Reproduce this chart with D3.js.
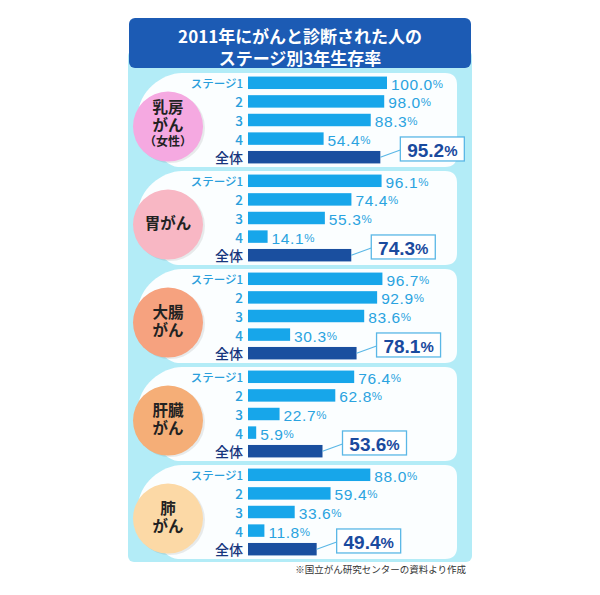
<!DOCTYPE html>
<html>
<head>
<meta charset="utf-8">
<script src="https://cdn.jsdelivr.net/npm/d3@7"></script>
<style>
  body { margin: 0; background: #fff; }
  svg { display: block; }
</style>
</head>
<body>
<svg id="chart" width="600" height="595"></svg>
<script>
// Data
const cancers = ['乳房がん（女性）', '胃がん', '大腸がん', '肝臓がん', '肺がん'];
const circleLines = [['乳房', 'がん', '（女性）'], ['胃がん'], ['大腸', 'がん'], ['肝臓', 'がん'], ['肺', 'がん']];
const circleColors = ['#f5a9e1', '#f8b7c4', '#f6a27f', '#f5ae77', '#fcd9a6'];
const stages = ['ステージ1', '2', '3', '4', '全体'];
const breast = [100.0, 98.0, 88.3, 54.4, 95.2];
const stomach = [96.1, 74.4, 55.3, 14.1, 74.3];
const colorectal = [96.7, 92.9, 83.6, 30.3, 78.1];
const liver = [76.4, 62.8, 22.7, 5.9, 53.6];
const lung = [88.0, 59.4, 33.6, 11.8, 49.4];
const values = [breast, stomach, colorectal, liver, lung];
const titleLines = ['2011年にがんと診断された人の', 'ステージ別3年生存率'];
const note = '※国立がん研究センターの資料より作成';

const svg = d3.select('#chart');
const jp = '"Noto Sans CJK JP", sans-serif';
const num = '"Liberation Sans", Arial, "Noto Sans CJK JP", sans-serif';

// scales
const x = d3.scaleLinear().domain([0, 100]).range([248, 387]);
const panelY = d3.scaleBand().domain(cancers).range([73, 563]);
const rowY = d3.scaleBand().domain(stages).range([0.5, 93.5])
    .paddingInner(0.33).paddingOuter(0.165);

// background
svg.append('rect')
    .attr('x', 128).attr('y', 50).attr('width', 344).attr('height', 512)
    .attr('rx', 6).attr('fill', '#b3ecf7');

// title box
svg.append('rect')
    .attr('x', 129).attr('y', 18).attr('width', 342).attr('height', 50)
    .attr('rx', 6).attr('fill', '#1c5bb4');
svg.append('text')
    .attr('x', 300)
    .attr('y', 35)
    .attr('text-anchor', 'middle')
    .attr('dominant-baseline', 'central')
    .attr('font-family', jp)
    .attr('font-weight', 'bold')
    .attr('font-size', 17)
    .attr('fill', '#fff')
    .selectAll('tspan')
    .data(titleLines)
    .enter()
    .append('tspan')
    .attr('x', 300)
    .attr('dy', (d, i) => i === 0 ? 0 : 22)
    .text((d) => d);

// panels
cancers.forEach(function (name, idx) {
    const top = panelY(name);
    const h = panelY.bandwidth() - 4;
    const g = svg.append('g').attr('transform', 'translate(0,' + top + ')');

    // white panel with a bulging left side
    const r = 12, left = 170, right = 457;
    g.append('path')
        .attr('d', 'M' + (left + r) + ',0 H' + (right - r) +
            ' Q' + right + ',0 ' + right + ',' + r +
            ' V' + (h - r) +
            ' Q' + right + ',' + h + ' ' + (right - r) + ',' + h +
            ' H' + (left + 8) +
            ' C' + (left - 10) + ',' + h + ' ' + (left - 32) + ',' + (h * 0.55) + ' ' + (left - 32) + ',' + (h * 0.45) +
            ' C' + (left - 32) + ',' + (h * 0.2) + ' ' + (left - 8) + ',0 ' + (left + r) + ',0 Z')
        .attr('fill', '#fbfeff');

    // circle with cancer name
    const cy = rowY(stages[0]) + 50;
    g.append('circle')
        .attr('cx', 170).attr('cy', cy + 1.5).attr('r', 35)
        .attr('fill', '#000').attr('opacity', 0.08);
    g.append('circle')
        .attr('cx', 168).attr('cy', cy).attr('r', 35)
        .attr('fill', circleColors[idx]);
    const lines = circleLines[idx];
    const starts = { 3: -21, 2: -12, 1: -3 };
    const gaps = [0, 18, 16.5];
    g.selectAll('.cname')
        .data(lines)
        .enter()
        .append('text')
        .attr('class', 'cname')
        .attr('x', 168)
        .attr('y', (d, i) => cy + starts[lines.length] + d3.sum(gaps.slice(0, i + 1)))
        .attr('text-anchor', 'middle')
        .attr('dominant-baseline', 'central')
        .attr('font-family', jp)
        .attr('font-weight', 'bold')
        .attr('font-size', (d, i) => i === 2 ? 12 : 15.5)
        .attr('fill', '#222')
        .text((d) => d);

    const data = values[idx];

    // stage labels
    g.selectAll('.stage')
        .data(stages)
        .enter()
        .append('text')
        .attr('class', 'stage')
        .attr('x', 243)
        .attr('y', (d) => rowY(d) + rowY.bandwidth() / 2)
        .attr('text-anchor', 'end')
        .attr('dominant-baseline', 'central')
        .attr('font-family', jp)
        .attr('font-weight', 500)
        .attr('font-size', (d, i) => i === 0 ? 11.5 : (i === 4 ? 14 : 13.5))
        .attr('fill', (d, i) => i === 4 ? '#17367e' : '#2a9fdc')
        .text((d) => d);

    // bars
    g.selectAll('.bar')
        .data(data)
        .enter()
        .append('rect')
        .attr('class', 'bar')
        .attr('x', x(0))
        .attr('y', (d, i) => rowY(stages[i]))
        .attr('width', (d) => x(d) - x(0))
        .attr('height', rowY.bandwidth())
        .attr('fill', (d, i) => i === 4 ? '#1a4f9f' : '#17a6ea');

    // value labels for stages
    const vals = g.selectAll('.val')
        .data(data.slice(0, 4))
        .enter()
        .append('text')
        .attr('class', 'val')
        .attr('x', (d) => x(d) + 4)
        .attr('y', (d, i) => rowY(stages[i]) + rowY.bandwidth() / 2 + 1)
        .attr('dominant-baseline', 'central')
        .attr('font-family', num)
        .attr('font-size', 15.5)
        .attr('letter-spacing', 0.6)
        .attr('fill', '#2aa3e0');
    vals.append('tspan').text((d) => d.toFixed(1));
    vals.append('tspan').attr('font-size', 11.5).text('%');

    // callout for overall value
    const total = data[4];
    const by = rowY(stages[4]);
    const bx = x(total) + 20;
    const boxTop = by - 14;
    g.append('path')
        .attr('d', 'M' + x(total) + ',' + (by + rowY.bandwidth() / 2) + ' L' + bx + ',' + (boxTop + 13))
        .attr('stroke', '#5ab7e6')
        .attr('stroke-width', 1.2)
        .attr('fill', 'none');
    g.append('rect')
        .attr('x', bx).attr('y', boxTop)
        .attr('width', 64).attr('height', 24)
        .attr('fill', '#fff')
        .attr('stroke', '#5ab7e6')
        .attr('stroke-width', 1.3);
    const tt = g.append('text')
        .attr('x', bx + 32)
        .attr('y', boxTop + 13)
        .attr('text-anchor', 'middle')
        .attr('dominant-baseline', 'central')
        .attr('font-family', num)
        .attr('font-weight', 'bold')
        .attr('font-size', 19)
        .attr('fill', '#1a4a9e');
    tt.append('tspan').text(total.toFixed(1));
    tt.append('tspan').attr('font-size', 15).text('%');
});

// source note
svg.append('text')
    .attr('x', 466)
    .attr('y', 569)
    .attr('text-anchor', 'end')
    .attr('dominant-baseline', 'central')
    .attr('font-family', jp)
    .attr('font-size', 9.5)
    .attr('fill', '#333')
    .text(note);
</script>
</body>
</html>
